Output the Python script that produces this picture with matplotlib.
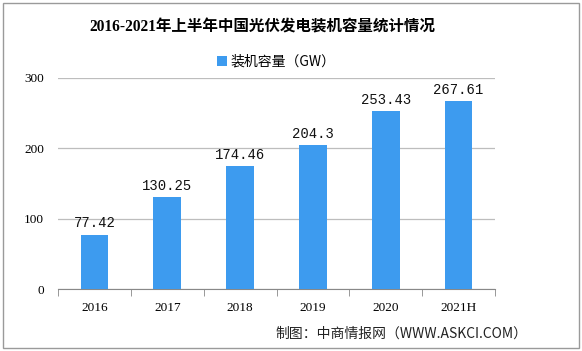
import matplotlib.pyplot as plt
import numpy as np
from matplotlib.patches import Rectangle

# 数据
years = ['2016', '2017', '2018', '2019', '2020', '2021H']
capacity = [77.42, 130.25, 174.46, 204.3, 253.43, 267.61]
value_labels = ['77.42', '130.25', '174.46', '204.3', '253.43', '267.61']
yticks = [0, 100, 200, 300]

cjk = ['Noto Sans CJK SC', 'DejaVu Sans']
serif = ['Liberation Serif', 'Noto Sans CJK SC']

fig = plt.figure(figsize=(5.82, 3.51), dpi=100)
ax = fig.add_axes([0.0997, 0.1766, 0.7508, 0.6012])

x = np.arange(len(years))
ax.bar(x, capacity, width=0.38, color='#3d9bef', zorder=3, label='装机容量（GW）')

for xi, v, s in zip(x, capacity, value_labels):
    ax.text(xi, v + 6, s, ha='center', va='bottom', fontsize=10,
            family=['Liberation Mono', 'DejaVu Sans'], color='#111111')

ax.set_xlim(-0.5, len(years) - 0.5)
ax.set_ylim(0, 300)
ax.set_yticks(yticks)
ax.set_yticklabels([str(t) for t in yticks], family=serif, fontsize=9.5)
ax.set_xticks(x)
ax.set_xticklabels(years, family=serif, fontsize=9.5)
ax.set_xticks(np.arange(-0.5, len(years)), minor=True)
ax.tick_params(axis='x', which='major', length=0, pad=9)
ax.tick_params(axis='x', which='minor', length=5, color='#888888')
ax.tick_params(axis='y', length=0, pad=10)
ax.grid(axis='y', color='#bdbdbd', linewidth=0.9, zorder=0)
for side in ['top', 'right', 'left']:
    ax.spines[side].set_visible(False)
ax.spines['bottom'].set_color('#888888')

fig.text(0.451, 0.923, '2016-2021年上半年中国光伏发电装机容量统计情况',
         ha='center', va='center', fontsize=11.2, fontweight='bold', family=serif)

leg = ax.legend(loc='lower center', bbox_to_anchor=(0.5, 0.985), frameon=False,
                prop={'family': cjk, 'size': 10}, handlelength=0.7, handleheight=0.7,
                handletextpad=0.3)

fig.text(0.473, 0.05, '制图：中商情报网（WWW.ASKCI.COM）', ha='left', va='center',
         fontsize=10, family=cjk, color='#222222')

# 外框
fig.patches.append(Rectangle((0.006, 0.008), 0.988, 0.984, transform=fig.transFigure,
                             fill=False, edgecolor='#9a9a9a', linewidth=1.0))

fig.savefig('out.png', dpi=100)
